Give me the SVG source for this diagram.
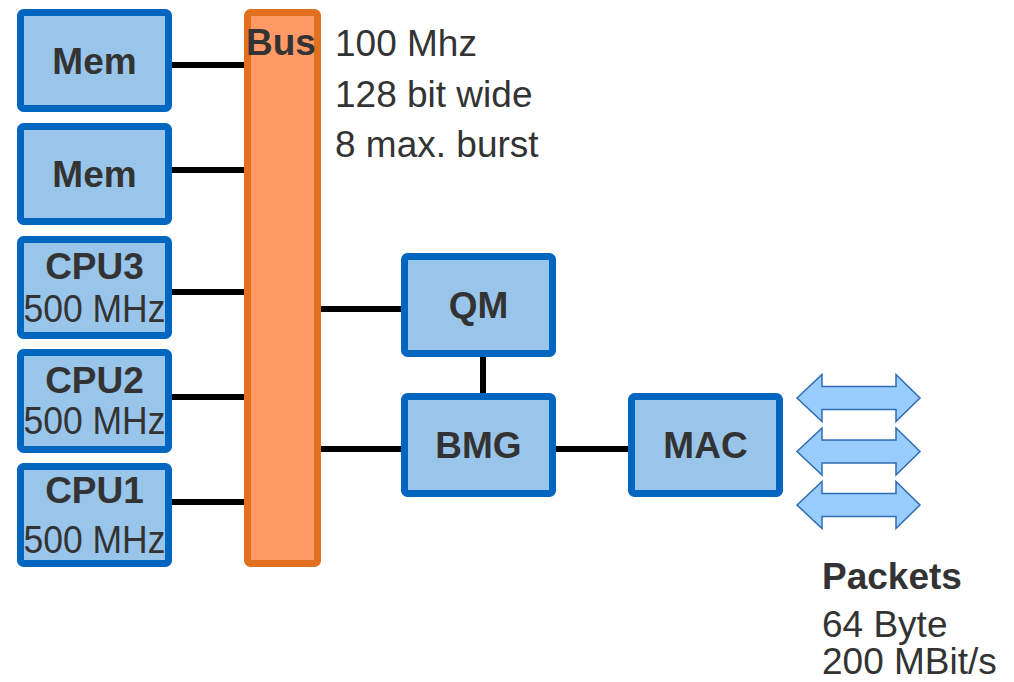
<svg xmlns="http://www.w3.org/2000/svg" width="1014" height="682" viewBox="0 0 1014 682">
<style>
.box{fill:#9AC5EA;stroke:#0066BF;stroke-width:7}
.bus{fill:#FF9966;stroke:#E2711F;stroke-width:7}
.b{font-family:"Liberation Sans",Arial,sans-serif;font-weight:bold;font-size:37px;fill:#333333;text-anchor:middle}
.r{font-family:"Liberation Sans",Arial,sans-serif;font-size:37px;fill:#333333}
.rc{font-family:"Liberation Sans",Arial,sans-serif;font-size:38px;fill:#333333;text-anchor:middle}
.ln{stroke:#000000;stroke-width:6;fill:none}
.arr{fill:#99CCFF;stroke:#2E6DB4;stroke-width:1.5;stroke-linejoin:miter}
</style>
<rect width="1014" height="682" fill="#FFFFFF"/>
<g id="connectors">
<line class="ln" x1="172" y1="65" x2="244" y2="65"/>
<line class="ln" x1="172" y1="170" x2="244" y2="170"/>
<line class="ln" x1="172" y1="292" x2="244" y2="292"/>
<line class="ln" x1="172" y1="397" x2="244" y2="397"/>
<line class="ln" x1="172" y1="502" x2="244" y2="502"/>
<line class="ln" x1="321" y1="309" x2="401" y2="309"/>
<line class="ln" x1="321" y1="449" x2="401" y2="449"/>
<line class="ln" x1="483" y1="357" x2="483" y2="393"/>
<line class="ln" x1="556" y1="449" x2="628" y2="449"/>
</g>
<g id="mem1"><rect class="box" x="20.5" y="12.5" width="148" height="96" rx="3"/><text class="b" x="94.5" y="74">Mem</text></g>
<g id="mem2"><rect class="box" x="20.5" y="126.5" width="148" height="95" rx="3"/><text class="b" x="94.5" y="187">Mem</text></g>
<g id="cpu3"><rect class="box" x="20.5" y="239.5" width="148" height="96" rx="3"/><text class="b" x="94.5" y="279">CPU3</text><text class="rc" x="94.5" y="322" textLength="142" lengthAdjust="spacingAndGlyphs">500 MHz</text></g>
<g id="cpu2"><rect class="box" x="20.5" y="352.5" width="148" height="97" rx="3"/><text class="b" x="94.5" y="393">CPU2</text><text class="rc" x="94.5" y="434" textLength="142" lengthAdjust="spacingAndGlyphs">500 MHz</text></g>
<g id="cpu1"><rect class="box" x="20.5" y="466.5" width="148" height="97" rx="3"/><text class="b" x="94.5" y="503">CPU1</text><text class="rc" x="94.5" y="553" textLength="142" lengthAdjust="spacingAndGlyphs">500 MHz</text></g>
<g id="bus"><rect class="bus" x="247.5" y="12.5" width="70" height="551" rx="3"/><text class="b" x="281" y="55">Bus</text></g>
<g id="bus-info"><text class="r" x="335" y="56">100 Mhz</text><text class="r" x="335" y="107">128 bit wide</text><text class="r" x="335" y="157">8 max. burst</text></g>
<g id="qm"><rect class="box" x="404.5" y="256.5" width="148" height="97" rx="3"/><text class="b" x="478.5" y="318">QM</text></g>
<g id="bmg"><rect class="box" x="404.5" y="396.5" width="148" height="97" rx="3"/><text class="b" x="478.5" y="458">BMG</text></g>
<g id="mac"><rect class="box" x="631.5" y="396.5" width="148" height="97" rx="3"/><text class="b" x="705.5" y="458">MAC</text></g>
<g id="packets-arrows">
<path class="arr" d="M797,398 L822,374.5 L822,386.5 L896,386.5 L896,374.5 L920,398 L896,421.5 L896,409.5 L822,409.5 L822,421.5 Z"/>
<path class="arr" d="M797,451.5 L822,428 L822,440 L896,440 L896,428 L920,451.5 L896,475 L896,463 L822,463 L822,475 Z"/>
<path class="arr" d="M797,505 L822,481.5 L822,493.5 L896,493.5 L896,481.5 L920,505 L896,528.5 L896,516.5 L822,516.5 L822,528.5 Z"/>
</g>
<g id="packets-label"><text class="b" x="822" y="589" style="text-anchor:start">Packets</text><text class="r" x="822" y="637">64 Byte</text><text class="r" x="822" y="674">200 MBit/s</text></g>
</svg>
